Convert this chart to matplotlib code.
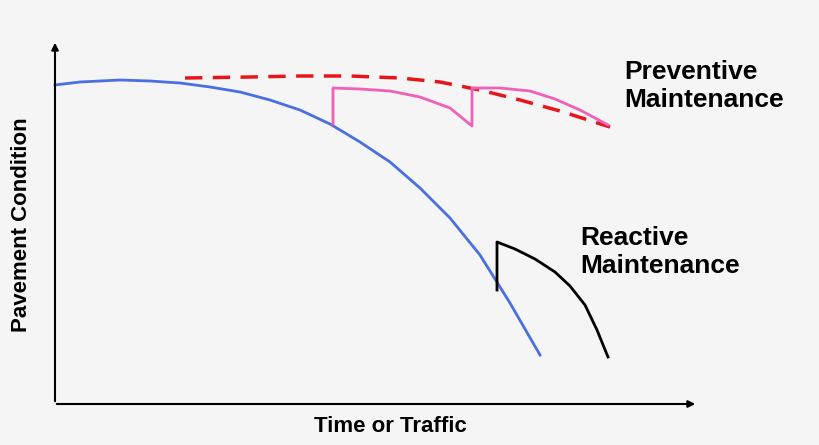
import matplotlib as mpl
mpl.use('Agg')
from matplotlib import pyplot as plt

# conceptual curves, in picture units (x right, y down)
base_x = [55, 80, 100, 120, 150, 180, 210, 240, 270, 300, 330, 360, 390, 420, 450, 480, 510, 540]
base_y = [85, 82, 81, 80, 81, 83, 87, 92, 100, 110, 124, 142, 162, 188, 218, 255, 303, 355]

prev_x = [333, 333, 360, 390, 420, 450, 472, 472, 500, 530, 555, 580, 608]
prev_y = [124, 88, 89, 91, 97, 108, 126, 88, 88, 91, 99, 110, 125]

ideal_x = [185, 250, 300, 350, 400, 440, 480, 520, 560, 610]
ideal_y = [78, 77, 76, 76, 78, 82, 90, 100, 111, 127]

react_x = [497, 497, 515, 535, 555, 570, 585, 597, 608]
react_y = [290, 242, 249, 259, 272, 286, 305, 330, 357]

fig = plt.figure(figsize=(8.2, 4.45), dpi=100)
fig.patch.set_facecolor('#f5f5f5')
ax = fig.add_axes([0, 0, 1, 1])
ax.set_facecolor('#f5f5f5')
ax.set_xlim(0, 820)
ax.set_ylim(445, 0)
ax.axis('off')

# axes arrows
ax.annotate('', xy=(55, 40), xytext=(55, 404),
            arrowprops=dict(arrowstyle='-|>', color='black', lw=1.5, mutation_scale=10))
ax.annotate('', xy=(698, 404), xytext=(54, 404),
            arrowprops=dict(arrowstyle='-|>', color='black', lw=1.5, mutation_scale=10))

ax.plot(base_x, base_y, color='#4a6fe3', lw=2)
ax.plot(ideal_x, ideal_y, color='#e8141c', lw=2.5, ls=(0, (5, 3)))
ax.plot(prev_x, prev_y, color='#f060b8', lw=2)
ax.plot(react_x, react_y, color='black', lw=2)

bold = dict(fontweight='bold', family='Liberation Sans')
ax.text(624, 86, 'Preventive\nMaintenance', fontsize=19, va='center', ha='left',
        linespacing=1.2, **bold)
ax.text(580, 252, 'Reactive\nMaintenance', fontsize=19, va='center', ha='left',
        linespacing=1.2, **bold)
ax.text(390, 426, 'Time or Traffic', fontsize=16, va='center', ha='center', **bold)
ax.text(22, 225, 'Pavement Condition', fontsize=16, va='center', ha='center',
        rotation=90, **bold)

plt.savefig('out.png', facecolor=fig.get_facecolor())
